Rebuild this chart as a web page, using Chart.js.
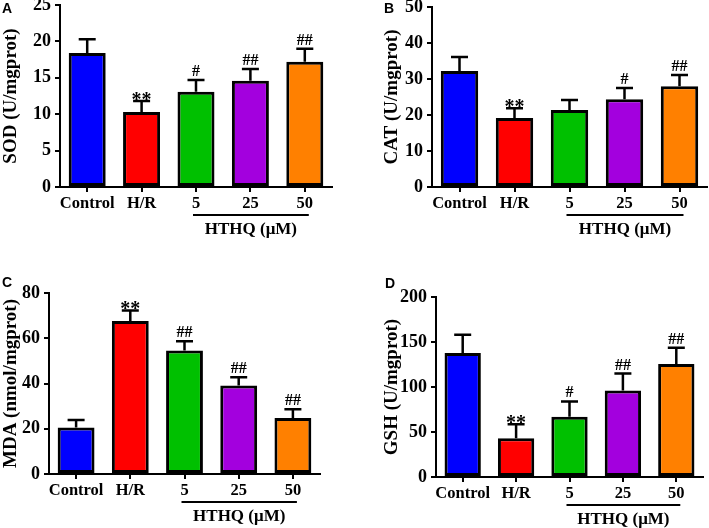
<!DOCTYPE html>
<html>
<head>
<meta charset="utf-8">
<script src="https://cdn.jsdelivr.net/npm/chart.js@4/dist/chart.umd.min.js"></script>
<style>
  body { margin: 0; background: #fff; }
  #wrap { position: relative; width: 709px; height: 528px; overflow: hidden; }
  canvas { position: absolute; }
  .tag { position: absolute; font: bold 14px "Liberation Sans", Arial, sans-serif; line-height: 14px; color: #000; }
</style>
</head>
<body>
<div id="wrap">
  <canvas id="cA" width="354" height="264" style="left:0;top:0"></canvas>
  <canvas id="cB" width="355" height="264" style="left:354px;top:0"></canvas>
  <canvas id="cC" width="354" height="264" style="left:0;top:264px"></canvas>
  <canvas id="cD" width="355" height="264" style="left:354px;top:264px"></canvas>
  <div class="tag" style="left:2px;top:1px">A</div>
  <div class="tag" style="left:384px;top:1px">B</div>
  <div class="tag" style="left:2px;top:275px">C</div>
  <div class="tag" style="left:385px;top:276px">D</div>
</div>
<script>
const groups = ["Control", "H/R", "5", "25", "50"];
const barColors = ["#0000ff", "#ff0000", "#00c000", "#a300de", "#ff8000"];

// mean and SD
const sodMean = [18.4, 10.3, 13.1, 14.6, 17.2];
const sodSd = [1.9, 1.5, 1.6, 1.6, 1.8];
const sodMarks = ["", "**", "#", "##", "##"];

const catMean = [32.2, 19.2, 21.4, 24.4, 28.0];
const catSd = [3.9, 2.7, 2.8, 3.1, 3.1];
const catMarks = ["", "**", "", "#", "##"];

const mdaMean = [20.5, 67.6, 54.6, 39.1, 24.8];
const mdaSd = [3.4, 4.7, 4.1, 3.7, 3.8];
const mdaMarks = ["", "**", "##", "##", "##"];

const gshMean = [137.8, 43, 67, 96, 125.5];
const gshSd = [20.2, 15.5, 17, 19, 18.2];
const gshMarks = ["", "**", "#", "##", "##"];

const groupLabel = "HTHQ (μM)";
const serif = "'Liberation Serif', 'Times New Roman', serif";

Chart.defaults.font.family = serif;
Chart.defaults.font.weight = "bold";
Chart.defaults.color = "#000";

const extras = {
  id: "extras",
  afterDraw(chart, args, opts) {
    const { ctx, scales: { x, y } } = chart;
    ctx.save();
    ctx.strokeStyle = "#000";
    ctx.fillStyle = "#000";
    ctx.lineWidth = 2.5;
    ctx.textAlign = "center";
    opts.mean.forEach((m, i) => {
      const cx = x.getPixelForValue(i);
      const y0 = y.getPixelForValue(m);
      const y1 = y.getPixelForValue(m + opts.sd[i]);
      ctx.beginPath();
      ctx.moveTo(cx, y0);
      ctx.lineTo(cx, y1);
      ctx.moveTo(cx - 8.5, y1);
      ctx.lineTo(cx + 8.5, y1);
      ctx.stroke();
      const mk = opts.marks[i];
      if (mk === "**") {
        ctx.font = "bold 20px " + serif;
        ctx.textBaseline = "alphabetic";
        ctx.fillText(mk, cx, y1 + 5);
      } else if (mk) {
        ctx.font = "bold 16px " + serif;
        ctx.textBaseline = "alphabetic";
        ctx.fillText(mk, cx, y1 - 4);
      }
    });
    // bracket under the HTHQ doses
    const gy = x.top + 28;
    const x0 = x.getPixelForValue(2) - 3;
    const x1 = x.getPixelForValue(4) + 4;
    ctx.lineWidth = 2;
    ctx.beginPath();
    ctx.moveTo(x0, gy);
    ctx.lineTo(x1, gy);
    ctx.stroke();
    ctx.font = "bold 17px " + serif;
    ctx.textBaseline = "middle";
    ctx.fillText(groupLabel, (x0 + x1) / 2, gy + 15);
    ctx.restore();
  },
};

function panel(id, mean, sd, marks, title, max, step, pad, yw, xh) {
  new Chart(document.getElementById(id), {
    type: "bar",
    data: {
      labels: groups,
      datasets: [
        {
          data: mean,
          backgroundColor: barColors,
          borderColor: "#000",
          borderWidth: 3,
          borderSkipped: false,
          barPercentage: 0.68,
          categoryPercentage: 1,
        },
      ],
    },
    options: {
      responsive: false,
      animation: false,
      devicePixelRatio: 1,
      layout: { padding: pad },
      plugins: {
        legend: { display: false },
        tooltip: { enabled: false },
        extras: { mean, sd, marks },
      },
      scales: {
        x: {
          grid: {
            drawOnChartArea: false,
            drawTicks: true,
            tickLength: 5,
            offset: false,
            color: "#000",
            lineWidth: 2,
          },
          border: { display: true, color: "#000", width: 2 },
          ticks: { font: { size: 16.5 }, padding: 2, maxRotation: 0, autoSkip: false },
          afterFit: (s) => {
            s.height = xh;
            s.paddingLeft = 0;
            s.paddingRight = 0;
          },
        },
        y: {
          min: 0,
          max,
          ticks: { stepSize: step, font: { size: 18 }, padding: 4 },
          grid: {
            drawOnChartArea: false,
            drawTicks: true,
            tickLength: 5,
            color: "#000",
            lineWidth: 2,
          },
          border: { display: true, color: "#000", width: 2 },
          title: {
            display: true,
            text: title,
            font: { size: 19 },
            padding: { top: 0, bottom: 0 },
          },
          afterFit: (s) => {
            s.width = yw;
            s.paddingTop = 0;
            s.paddingBottom = 0;
          },
        },
      },
    },
    plugins: [extras],
  });
}

panel("cA", sodMean, sodSd, sodMarks, "SOD (U/mgprot)", 25, 5,
  { left: 0, top: 5, right: 22, bottom: 0 }, 60, 77);
panel("cB", catMean, catSd, catMarks, "CAT (U/mgprot)", 50, 10,
  { left: 27, top: 7, right: 2, bottom: 0 }, 51, 77);
panel("cC", mdaMean, mdaSd, mdaMarks, "MDA (nmol/mgprot)", 80, 20,
  { left: 0, top: 29, right: 34, bottom: 0 }, 49, 54);
panel("cD", gshMean, gshSd, gshMarks, "GSH (U/mgprot)", 200, 50,
  { left: 27, top: 33, right: 6, bottom: 0 }, 55, 51);
</script>
</body>
</html>
